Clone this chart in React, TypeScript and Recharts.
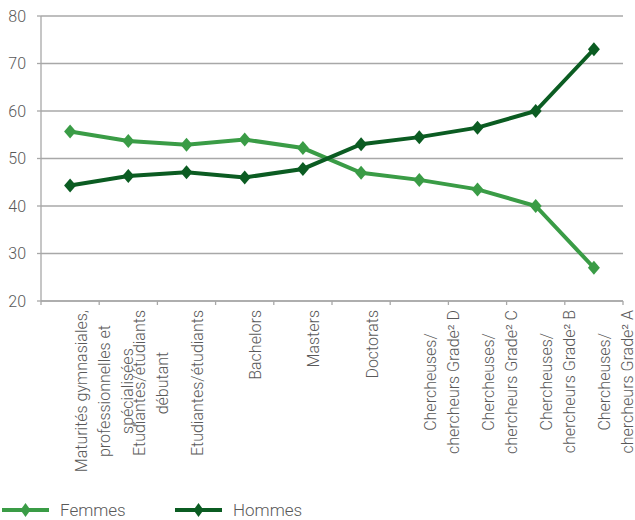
import React from 'react';
import {
  LineChart, Line, XAxis, YAxis, CartesianGrid, Legend, ReferenceLine
} from 'recharts';

// Categories (line breaks as in the original labels)
const categories = [
  'Maturités gymnasiales,\nprofessionnelles et\nspécialisées',
  'Etudiantes/étudiants\ndébutant',
  'Etudiantes/étudiants',
  'Bachelors',
  'Masters',
  'Doctorats',
  'Chercheuses/\nchercheurs Grade² D',
  'Chercheuses/\nchercheurs Grade² C',
  'Chercheuses/\nchercheurs Grade² B',
  'Chercheuses/\nchercheurs Grade² A',
];

const femmes = [55.7, 53.7, 52.9, 54.0, 52.2, 47.0, 45.5, 43.5, 40.0, 27.0];
const hommes = [44.3, 46.3, 47.1, 46.0, 47.8, 53.0, 54.5, 56.5, 60.0, 73.0];

const yTicks = [20, 30, 40, 50, 60, 70, 80];

const COLOR_F = '#3a9c46';
const COLOR_H = '#0b5c22';
const GRID = '#a8a8a8';
const TEXT = '#595959';
const FONT = 'Roboto, "Noto Sans", sans-serif';

const chartData = categories.map((name, i) => ({
  name,
  Femmes: femmes[i],
  Hommes: hommes[i],
}));

let measureCtx: CanvasRenderingContext2D | null = null;
function textWidth(s: string, font: string) {
  if (!measureCtx) measureCtx = document.createElement('canvas').getContext('2d');
  if (!measureCtx) return s.length * 8;
  measureCtx.font = font;
  return measureCtx.measureText(s).width;
}

function CategoryTick(props: any) {
  const { x, y, payload, index } = props;
  const half = payload && typeof payload.offset === 'number' && payload.offset > 0 ? payload.offset : 29;
  const axisY = y - 9;
  const lines = String(payload.value).split('\n');
  const maxLen = Math.max(...lines.map((l) => textWidth(l, `300 16px Roboto`)));
  const center = maxLen / 2;
  return (
    <g>
      <line x1={x - half} x2={x - half} y1={axisY} y2={axisY + 4} stroke={GRID} strokeWidth={1.3} />
      {index === categories.length - 1 && (
        <line x1={x + half} x2={x + half} y1={axisY} y2={axisY + 4} stroke={GRID} strokeWidth={1.3} />
      )}
      <g transform={`translate(${x},${y}) rotate(-90)`}>
        {lines.map((l, i) => (
          <text
            key={i}
            x={-center}
            y={11 + i * 23}
            textAnchor="middle"
            dominantBaseline="central"
            fontFamily={FONT}
            fontWeight={300}
            fontSize={16}
            fill={TEXT}
          >
            {l}
          </text>
        ))}
      </g>
    </g>
  );
}

function Diamond(props: any) {
  const { cx, cy, fill, w = 6, h = 7 } = props;
  if (cx == null || cy == null) return null;
  return (
    <polygon
      points={`${cx},${cy - h} ${cx + w},${cy} ${cx},${cy + h} ${cx - w},${cy}`}
      fill={fill}
    />
  );
}

function LegendContent() {
  const items = [
    { label: 'Femmes', color: COLOR_F, left: 2 },
    { label: 'Hommes', color: COLOR_H, left: 175 },
  ];
  return (
    <div style={{ position: 'relative', height: 22 }}>
      {items.map((it) => (
        <div key={it.label} style={{ position: 'absolute', left: it.left, top: 2, height: 20, display: 'flex', alignItems: 'center', whiteSpace: 'nowrap' }}>
          <svg width={47} height={16}>
            <line x1={0} x2={47} y1={8} y2={8} stroke={it.color} strokeWidth={4} />
            <Diamond cx={23.5} cy={8} fill={it.color} w={5} h={7} />
          </svg>
          <span style={{ marginLeft: 11, fontFamily: FONT, fontWeight: 300, fontSize: 17, color: TEXT, lineHeight: '20px' }}>
            {it.label}
          </span>
        </div>
      ))}
    </div>
  );
}

export default function App() {
  return (
    <div style={{ position: 'absolute', left: 0, top: 0, width: 635, height: 520, background: '#fff' }}>
      <LineChart
        width={635}
        height={520}
        data={chartData}
        margin={{ top: 16, right: 12, left: 0, bottom: 0 }}
      >
        <CartesianGrid vertical={false} stroke={GRID} strokeWidth={1.3} />
        <XAxis
          dataKey="name"
          scale="band"
          interval={0}
          height={197}
          tickLine={false}
          tickSize={4}
          tickMargin={5}
          axisLine={{ stroke: GRID, strokeWidth: 1.3 }}
          tick={<CategoryTick />}
        />
        <YAxis
          width={41}
          domain={[20, 80]}
          ticks={yTicks}
          interval={0}
          tickSize={4}
          tickMargin={11}
          tickLine={{ stroke: GRID, strokeWidth: 1.3 }}
          axisLine={{ stroke: GRID, strokeWidth: 1.3 }}
          tick={{ fontFamily: FONT, fontWeight: 300, fontSize: 16, fill: TEXT }}
        />
        <ReferenceLine x={categories[categories.length - 1]} position="end" stroke={GRID} strokeWidth={1.3} />
        <Legend verticalAlign="bottom" content={<LegendContent />} />
        <Line
          type="linear"
          dataKey="Femmes"
          stroke={COLOR_F}
          strokeWidth={4}
          dot={<Diamond fill={COLOR_F} />}
          activeDot={false}
          isAnimationActive={false}
        />
        <Line
          type="linear"
          dataKey="Hommes"
          stroke={COLOR_H}
          strokeWidth={4}
          dot={<Diamond fill={COLOR_H} />}
          activeDot={false}
          isAnimationActive={false}
        />
      </LineChart>
    </div>
  );
}
